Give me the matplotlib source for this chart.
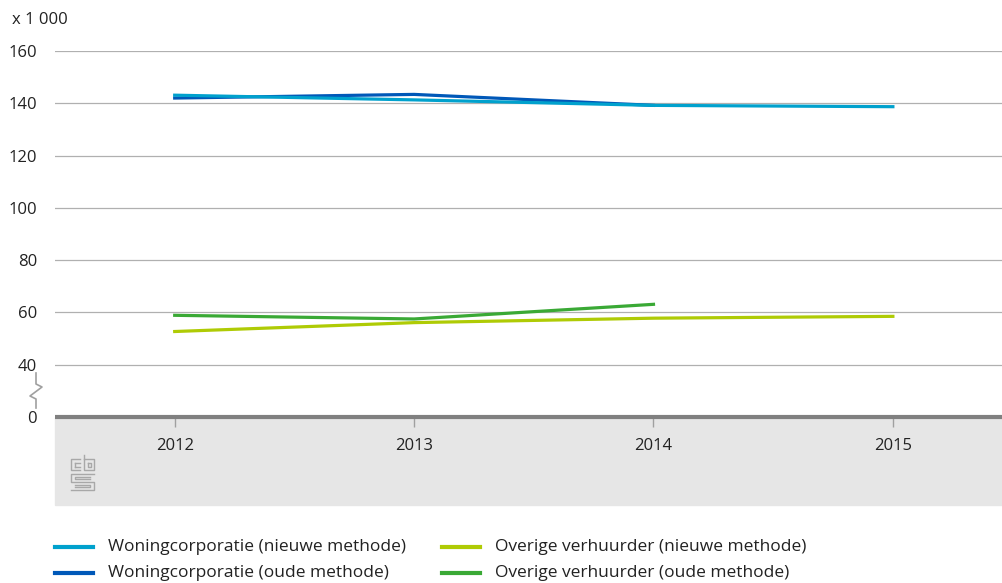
import matplotlib.pyplot as plt
from matplotlib.patches import Rectangle
from matplotlib.lines import Line2D

years = [2012, 2013, 2014, 2015]
woning_nieuw = [143.1, 141.3, 139.2, 138.7]
woning_oud = [142.0, 143.4, 139.2]
overig_nieuw = [52.7, 56.1, 57.8, 58.5]
overig_oud = [58.9, 57.5, 63.1]

y_ticks = [20, 40, 60, 80, 100, 120, 140, 160]
y_labels = ["0", "40", "60", "80", "100", "120", "140", "160"]

c_light_blue = "#00a1cd"
c_dark_blue = "#0058b8"
c_yellow = "#afcb05"
c_green = "#3aa935"

W, H = 1003, 583
plt.rcParams['font.family'] = ['Open Sans', 'DejaVu Sans']

fig = plt.figure(figsize=(W / 100, H / 100), dpi=100)


def px(x, y):
    # pixel coords (top-left origin) to figure fraction
    return x / W, 1 - y / H


# gray band under the x axis
x0, y0 = px(55, 505)
fig.patches.append(Rectangle((x0, y0), 1 - x0, (505 - 417) / H,
                             transform=fig.transFigure, color="#e6e6e6", zorder=0))

ax = fig.add_axes([55 / W, 1 - 417 / H, 1 - 55 / W, (417 - 51) / H])
ax.patch.set_alpha(0)
ax.set_zorder(2)

ax.plot(years, woning_nieuw, color=c_light_blue, lw=2.3, zorder=3)
ax.plot(years[:3], woning_oud, color=c_dark_blue, lw=2.3, zorder=2)
ax.plot(years, overig_nieuw, color=c_yellow, lw=2.3, zorder=2)
ax.plot(years[:3], overig_oud, color=c_green, lw=2.3, zorder=3)

ax.set_xlim(2011.5, 2015.46)
ax.set_ylim(20, 160)
ax.set_yticks(y_ticks)
ax.set_yticklabels(y_labels)
ax.set_xticks(years)
ax.set_xticklabels([str(y) for y in years])

for v in y_ticks[1:]:
    ax.axhline(v, color="#b0b0b0", lw=0.9, zorder=1)

for s in ["top", "right", "left"]:
    ax.spines[s].set_visible(False)
ax.spines["bottom"].set_color("#808080")
ax.spines["bottom"].set_linewidth(3)
ax.spines["bottom"].set_capstyle("butt")

ax.tick_params(axis="y", length=0, pad=13, labelsize=12, labelcolor="#222222")
ax.tick_params(axis="x", length=7, width=1, color="#a0a0a0", pad=8,
               labelsize=12, labelcolor="#222222")

fig.text(12 / W, 1 - 20 / H, "x 1 000", fontsize=12, color="#222222",
         va="center", ha="left")

# axis break symbol
zz = [(36, 373), (36, 384), (42, 387), (30, 396), (36, 399), (36, 408)]
fig.add_artist(Line2D([px(*p)[0] for p in zz], [px(*p)[1] for p in zz],
                      color="#a0a0a0", lw=1.2, transform=fig.transFigure))

# rough cbs logo
logo_col = "#a8a8a8"
segs = [
    [(80, 459), (71, 459), (71, 470), (80, 470)],
    [(75, 463), (80, 463)], [(75, 467), (80, 467)], [(75, 463), (75, 467)],
    [(84, 455), (84, 470), (94, 470), (94, 459), (84, 459)],
    [(88, 463), (91, 463), (91, 467), (88, 467), (88, 463)],
    [(94, 474), (71, 474), (71, 482), (94, 482), (94, 490), (71, 490)],
    [(90, 477), (75, 477), (75, 479), (90, 479)],
    [(75, 485), (90, 485), (90, 487), (75, 487)],
]
for seg in segs:
    fig.add_artist(Line2D([px(*p)[0] for p in seg], [px(*p)[1] for p in seg],
                          color=logo_col, lw=1.0, transform=fig.transFigure))

# legend
legend_items = [
    (55, 547, c_light_blue, "Woningcorporatie (nieuwe methode)"),
    (55, 573, c_dark_blue, "Woningcorporatie (oude methode)"),
    (442, 547, c_yellow, "Overige verhuurder (nieuwe methode)"),
    (442, 573, c_green, "Overige verhuurder (oude methode)"),
]
for lx, ly, col, label in legend_items:
    xa, ya = px(lx, ly)
    xb, _ = px(lx + 38, ly)
    fig.add_artist(Line2D([xa, xb], [ya, ya], color=col, lw=3,
                          transform=fig.transFigure))
    fig.text(px(lx + 53, ly)[0], ya, label, fontsize=12.5, color="#222222",
             va="center", ha="left")

fig.savefig("out.png", dpi=100)
